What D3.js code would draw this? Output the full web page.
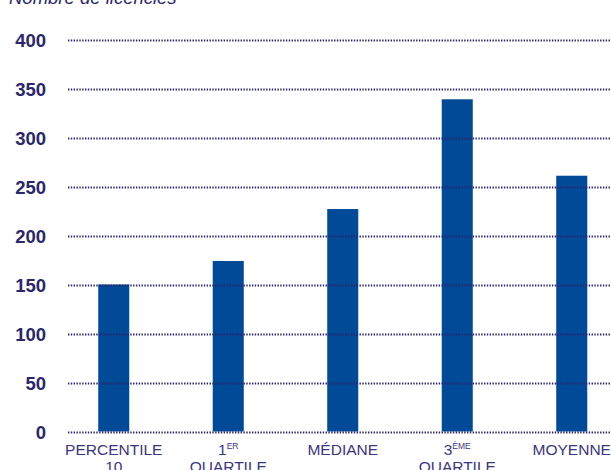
<!DOCTYPE html>
<html>
<head>
<meta charset="utf-8">
<script src="https://cdn.jsdelivr.net/npm/d3@7"></script>
<style>
  html, body { margin: 0; padding: 0; background: #fff; }
  svg { display: block; font-family: "Liberation Sans", Arial, Helvetica, sans-serif; }
</style>
</head>
<body>
<svg id="chart" width="611" height="470"></svg>
<script>
// Categories: main text, superscript, second line
const categories = ["p10", "q1", "med", "q3", "mean"];
const labelMain = ["PERCENTILE", "1", "MÉDIANE", "3", "MOYENNE"];
const labelSup = ["", "ER", "", "ÈME", ""];
const labelLine2 = ["10", "QUARTILE", "", "QUARTILE", ""];
const values = [150, 174, 227, 339, 261];
const yTicks = [0, 50, 100, 150, 200, 250, 300, 350, 400];
const yTitle = "Nombre de licenciés";

const svg = d3.select("#chart");
const navy = "#2b276b";
const barColor = "#004a98";

const y = d3.scaleLinear().domain([0, 400]).range([431.5, 39.5]);
const x = d3.scaleBand().domain(categories).range([56.5, 629])
  .paddingInner(0.729).paddingOuter(0.3645);

// Bars
svg.append("g").selectAll("rect").data(values).join("rect")
  .attr("x", (d, i) => x(categories[i]))
  .attr("y", d => y(d))
  .attr("width", x.bandwidth())
  .attr("height", d => y(0) - y(d))
  .attr("fill", barColor);

// Dotted gridlines, drawn over the bars
const yAxis = d3.axisLeft(y).tickValues(yTicks).tickSize(0).tickPadding(0);
svg.append("g").selectAll("line.grid").data(yTicks).join("line")
  .attr("class", "grid")
  .attr("x1", 68).attr("x2", 611)
  .attr("y1", d => Math.round(y(d)) + 0.5).attr("y2", d => Math.round(y(d)) + 0.5)
  .attr("stroke", navy).attr("stroke-width", 2)
  .attr("stroke-dasharray", "1.4,1.43");

// Y tick labels
const gy = svg.append("g").attr("transform", "translate(46,0)").call(yAxis);
gy.select(".domain").remove();
gy.selectAll("text")
  .attr("fill", navy)
  .attr("font-size", 18.5)
  .attr("font-weight", "bold")
  .attr("dy", "0.36em")
  .attr("x", 0);

// Axis title (partly clipped at the top)
svg.append("text")
  .attr("x", 9).attr("y", 4)
  .attr("fill", navy)
  .attr("font-size", 18.5)
  .attr("font-style", "italic")
  .text(yTitle);

// X category labels
const labelColor = "#3a3580";
const gx = svg.append("g");
categories.forEach((c, i) => {
  const cx = x(c) + x.bandwidth() / 2;
  const t = gx.append("text")
    .attr("x", cx).attr("y", 455)
    .attr("text-anchor", "middle")
    .attr("fill", labelColor)
    .attr("font-size", 15.5);
  t.append("tspan").text(labelMain[i]);
  if (labelSup[i]) {
    t.append("tspan").attr("font-size", 8.5).attr("dy", -6).text(labelSup[i]);
  }
  if (labelLine2[i]) {
    gx.append("text")
      .attr("x", cx).attr("y", 472)
      .attr("text-anchor", "middle")
      .attr("fill", labelColor)
      .attr("font-size", 15.5)
      .text(labelLine2[i]);
  }
});
</script>
</body>
</html>
